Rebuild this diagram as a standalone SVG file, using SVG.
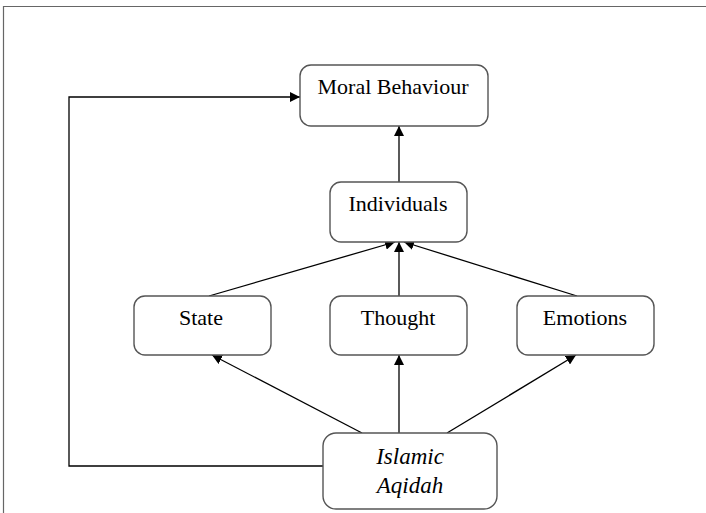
<svg xmlns="http://www.w3.org/2000/svg" width="706" height="513" viewBox="0 0 706 513">
<style>
.box{fill:#fff;stroke:#555;stroke-width:1.4}
.t{font-family:"Liberation Serif","Times New Roman",serif;font-size:22px;fill:#000;text-anchor:middle}
.i{font-style:italic;font-size:23px}
.c{stroke:#000;stroke-width:1.3;fill:none}
.frame{stroke:#666;stroke-width:1.2;fill:none}
</style>
<defs>
<marker id="ah" viewBox="0 0 10 10" refX="10" refY="5" markerWidth="10" markerHeight="10" markerUnits="userSpaceOnUse" orient="auto">
<path d="M0,0 L10,5 L0,10 Z" fill="#000"/>
</marker>
</defs>
<path class="frame" d="M3.5,513 V6.5 H706"/>
<g id="connectors">
<line class="c" x1="399" y1="182" x2="399" y2="126" marker-end="url(#ah)"/>
<line class="c" x1="209" y1="296" x2="395" y2="242" marker-end="url(#ah)"/>
<line class="c" x1="399" y1="296" x2="399" y2="242" marker-end="url(#ah)"/>
<line class="c" x1="577" y1="296" x2="404" y2="242" marker-end="url(#ah)"/>
<line class="c" x1="362" y1="433" x2="212" y2="355" marker-end="url(#ah)"/>
<line class="c" x1="399" y1="433" x2="399" y2="355" marker-end="url(#ah)"/>
<line class="c" x1="447" y1="433" x2="576" y2="355" marker-end="url(#ah)"/>
<polyline class="c" points="323,466 69,466 69,97 300,97" marker-end="url(#ah)"/>
</g>
<g id="moral"><rect class="box" x="300" y="65" width="188" height="61" rx="11"/><text class="t" x="393" y="94">Moral Behaviour</text></g>
<g id="individuals"><rect class="box" x="330" y="182" width="137" height="60" rx="11"/><text class="t" x="398" y="211">Individuals</text></g>
<g id="state"><rect class="box" x="134" y="296" width="137" height="59" rx="11"/><text class="t" x="201" y="325">State</text></g>
<g id="thought"><rect class="box" x="330" y="296" width="137" height="59" rx="11"/><text class="t" x="398" y="325">Thought</text></g>
<g id="emotions"><rect class="box" x="517" y="296" width="137" height="59" rx="11"/><text class="t" x="585" y="325">Emotions</text></g>
<g id="aqidah"><rect class="box" x="323" y="433" width="174" height="76" rx="13"/><text class="t i" x="410" y="464">Islamic</text><text class="t i" x="410" y="493">Aqidah</text></g>
</svg>
